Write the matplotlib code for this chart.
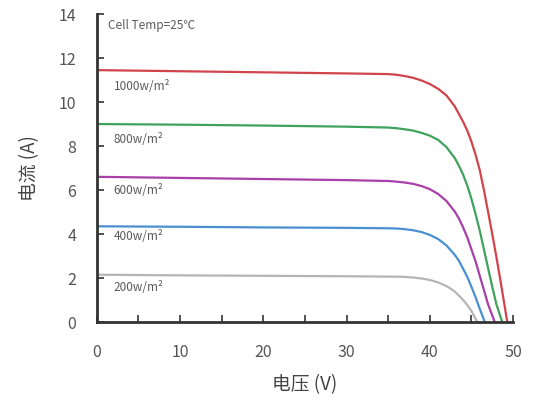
import matplotlib
matplotlib.use('Agg')
import matplotlib.pyplot as plt
from matplotlib.ticker import MultipleLocator

plt.rcParams['font.family'] = ['Noto Sans CJK SC', 'DejaVu Sans']

# I-V curves (voltage V, current A)
v_1000 = [0, 10, 20, 30, 35, 36, 37, 38, 39, 40, 41, 42, 43, 44, 44.5, 45, 45.5, 46, 46.5, 47, 47.5, 48, 48.5, 49.0, 49.3]
i_1000 = [11.45, 11.4, 11.35, 11.3, 11.27, 11.24, 11.18, 11.1, 10.98, 10.82, 10.6, 10.3, 9.8, 9.1, 8.7, 8.2, 7.6, 6.9, 6.0, 5.0, 4.0, 2.95, 1.85, 0.7, 0]

v_800 = [0, 10, 20, 30, 35, 36, 37, 38, 39, 40, 41, 42, 43, 43.5, 44, 44.5, 45, 45.5, 46, 46.5, 47, 47.5, 48, 48.7]
i_800 = [9.0, 8.97, 8.93, 8.88, 8.84, 8.81, 8.76, 8.7, 8.6, 8.47, 8.28, 7.95, 7.45, 7.1, 6.7, 6.2, 5.6, 4.9, 4.15, 3.3, 2.45, 1.6, 0.8, 0]

v_600 = [0, 10, 20, 30, 35, 36, 37, 38, 39, 40, 41, 42, 43, 43.5, 44, 44.5, 45, 45.5, 46, 46.5, 47, 47.8]
i_600 = [6.6, 6.55, 6.5, 6.45, 6.41, 6.38, 6.34, 6.28, 6.18, 6.04, 5.82, 5.5, 5.02, 4.7, 4.3, 3.85, 3.3, 2.75, 2.1, 1.45, 0.8, 0]

v_400 = [0, 10, 20, 30, 35, 36, 37, 38, 39, 40, 41, 42, 43, 43.5, 44, 44.5, 45, 45.5, 46, 46.6]
i_400 = [4.35, 4.33, 4.3, 4.28, 4.26, 4.25, 4.22, 4.17, 4.09, 3.96, 3.77, 3.48, 3.05, 2.78, 2.42, 2.05, 1.6, 1.12, 0.6, 0]

v_200 = [0, 10, 20, 30, 36, 37, 38, 39, 40, 41, 42, 42.5, 43, 43.5, 44, 44.5, 45, 45.7]
i_200 = [2.15, 2.12, 2.1, 2.08, 2.06, 2.05, 2.02, 1.98, 1.91, 1.8, 1.63, 1.52, 1.38, 1.2, 1.0, 0.77, 0.5, 0]

labels = ['1000w/m²', '800w/m²', '600w/m²', '400w/m²', '200w/m²']
colors = ['#d2444c', '#3fa35c', '#a93fa8', '#4a8fd0', '#b5b5b5']
label_y = [10.7, 8.3, 6.0, 3.9, 1.55]

fig = plt.figure(figsize=(5.35, 4.01), dpi=100)
ax = fig.add_axes([0.181, 0.197, 0.778, 0.768])

curves = [(v_1000, i_1000), (v_800, i_800), (v_600, i_600), (v_400, i_400), (v_200, i_200)]
for (v, i), c in zip(curves, colors):
    ax.plot(v, i, color=c, lw=1.6, solid_joinstyle='round')

for lab, y in zip(labels, label_y):
    ax.text(2.0, y, lab, fontsize=8.5, color='#5a5a5a', va='center', ha='left')
ax.text(1.4, 13.5, 'Cell Temp=25℃', fontsize=8.5, color='#5a5a5a', va='center', ha='left')

ax.set_xlim(0, 50)
ax.set_ylim(0, 14)
ax.xaxis.set_major_locator(MultipleLocator(10))
ax.xaxis.set_minor_locator(MultipleLocator(5))
ax.yaxis.set_major_locator(MultipleLocator(2))
ax.tick_params(which='both', direction='in', length=5, width=1.2, color='#333333',
               labelsize=11.5, labelcolor='#555555')
ax.tick_params(axis='x', which='both', pad=16)
ax.tick_params(axis='y', which='both', pad=15)
for s in ['top', 'right']:
    ax.spines[s].set_visible(False)
for s in ['left', 'bottom']:
    ax.spines[s].set_linewidth(2)
    ax.spines[s].set_color('#333333')

ax.set_xlabel('电压 (V)', fontsize=13.5, color='#444444', labelpad=9)
ax.set_ylabel('电流 (A)', fontsize=13.5, color='#444444', labelpad=13)

fig.savefig('out.png', dpi=100)
